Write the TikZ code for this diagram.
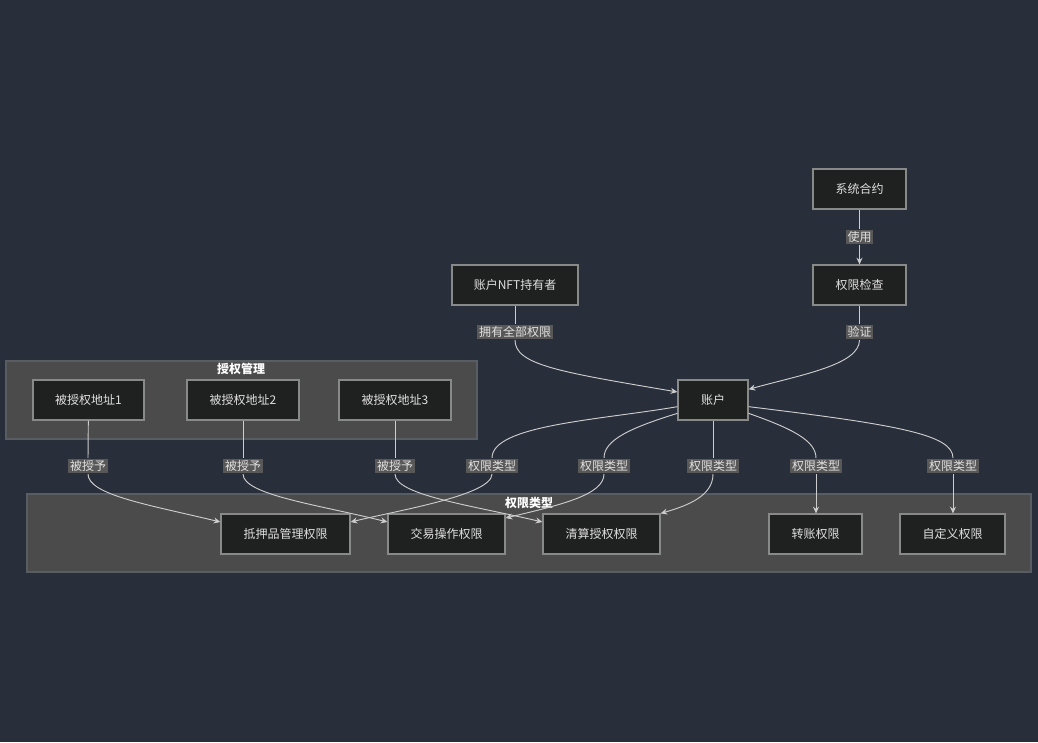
\documentclass[tikz,border=0pt]{standalone}
\usepackage{fontspec}
\setmainfont{Noto Sans CJK SC}
\usetikzlibrary{arrows.meta,calc}
\definecolor{bgc}{RGB}{41,46,59}
\definecolor{clfill}{RGB}{74,75,74}
\definecolor{cldraw}{RGB}{88,93,100}
\definecolor{nfill}{RGB}{31,32,32}
\definecolor{ndraw}{RGB}{136,138,138}
\definecolor{txt}{RGB}{224,224,224}
\definecolor{lfill}{RGB}{88,88,88}
\definecolor{ecol}{RGB}{205,205,205}
\tikzset{
  box/.style={draw=ndraw, fill=nfill, line width=0.9pt, text=txt, font=\fontsize{9}{11}\selectfont, minimum height=30pt, inner sep=0pt},
  elab/.style={fill=lfill, text=txt, font=\fontsize{9}{11}\selectfont, inner sep=1.2pt},
  cluster/.style={draw=cldraw, fill=clfill, line width=0.8pt},
  ctitle/.style={text=white, font=\fontsize{9}{11}\selectfont\bfseries},
  edge/.style={draw=ecol, line width=0.7pt},
  arr/.style={edge, -{Stealth[length=5pt,width=4.5pt]}}
}
\begin{document}
\begin{tikzpicture}[x=0.75pt,y=-0.75pt]
\fill[bgc] (0,0) rectangle (1038,742);
\useasboundingbox (0,0) rectangle (1038,742);
% clusters
\draw[cluster] (6,361) rectangle (477,439);
\node[ctitle] (t1) at (241,369) {授权管理};
\draw[cluster] (27,494) rectangle (1031,572);
\node[ctitle] (t2) at (529,503) {权限类型};
% nodes
\node[box, minimum width=83.25pt] (g1) at (88.5,400) {被授权地址1};
\node[box, minimum width=84pt] (g2) at (243,400) {被授权地址2};
\node[box, minimum width=84pt] (g3) at (395,400) {被授权地址3};
\node[box, minimum width=96.75pt] (p1) at (285.5,534) {抵押品管理权限};
\node[box, minimum width=87.75pt] (p2) at (446.5,534) {交易操作权限};
\node[box, minimum width=87.75pt] (p3) at (601.5,534) {清算授权权限};
\node[box, minimum width=69.75pt] (p4) at (815.5,534) {转账权限};
\node[box, minimum width=78.75pt] (p5) at (952.5,534) {自定义权限};
\node[box, minimum width=52.5pt] (acc) at (713,400) {账户};
\node[box, minimum width=94.5pt] (nft) at (515,285) {账户NFT持有者};
\node[box, minimum width=69.75pt] (chk) at (859.5,285) {权限检查};
\node[box, minimum width=69.75pt] (sys) at (859.5,189) {系统合约};
% edges
\draw[edge] (sys) -- (859.5,229);
\draw[arr] (859.5,245) -- (chk);
\draw[edge] (nft) -- (515,324);
\draw[arr] (515,340) .. controls (515,365) and (560,372) .. ([yshift=6pt]acc.west);
\draw[edge] (chk) -- (859.5,324);
\draw[arr] (859.5,340) .. controls (859.5,365) and (800,375) .. ([yshift=8pt]acc.east);
\draw[edge] ([yshift=-5pt]acc.west) .. controls (600,420) and (492,425) .. (492,458);
\draw[arr] (492,474) .. controls (492,495) and (400,510) .. ([yshift=9pt]p1.east);
\draw[edge] ([yshift=-10pt]acc.west) .. controls (630,428) and (604,440) .. (604,458);
\draw[arr] (604,474) .. controls (604,495) and (560,505) .. ([yshift=12pt]p2.east);
\draw[edge] (acc) -- (713,458);
\draw[arr] (713,474) .. controls (713,495) and (690,505) .. (p3.north east);
\draw[edge] ([yshift=-10pt]acc.east) .. controls (790,428) and (816,440) .. (816,458);
\draw[arr] (816,474) -- (p4.north-|816,0);
\draw[edge] ([yshift=-5pt]acc.east) .. controls (900,425) and (953,435) .. (953,458);
\draw[arr] (953,474) -- (p5.north-|953,0);
\draw[edge] (g1) -- (88,458);
\draw[arr] (88,474) .. controls (88,495) and (150,505) .. ([yshift=9pt]p1.west);
\draw[edge] (g2) -- (243,458);
\draw[arr] (243,474) .. controls (243,495) and (320,505) .. ([yshift=9pt]p2.west);
\draw[edge] (g3) -- (395,458);
\draw[arr] (395,474) .. controls (395,495) and (470,505) .. ([yshift=9pt]p3.west);
% edge labels
\node[elab] (l0) at (859.5,237) {使用};
\node[elab] (l1) at (515,332) {拥有全部权限};
\node[elab] (l2) at (859.5,332) {验证};
\node[elab] (l3) at (88,466) {被授予};
\node[elab] (l4) at (243,466) {被授予};
\node[elab] (l5) at (395,466) {被授予};
\node[elab] (l6) at (492,466) {权限类型};
\node[elab] (l7) at (604,466) {权限类型};
\node[elab] (l8) at (713,466) {权限类型};
\node[elab] (l9) at (816,466) {权限类型};
\node[elab] (l10) at (953,466) {权限类型};
\end{tikzpicture}
\end{document}
